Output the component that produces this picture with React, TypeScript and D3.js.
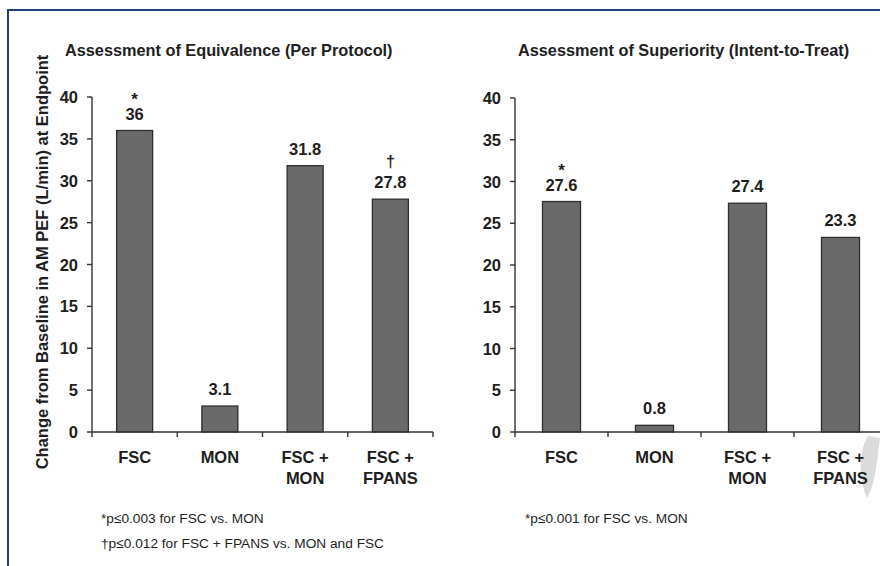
import React from "react";
import * as d3 from "d3";

const categories = ["FSC", "MON", "FSC + MON", "FSC + FPANS"];
const categoryLines = [["FSC"], ["MON"], ["FSC +", "MON"], ["FSC +", "FPANS"]];
const perProtocolValues = [36, 3.1, 31.8, 27.8];
const perProtocolLabels = ["36", "3.1", "31.8", "27.8"];
const perProtocolMarks = ["*", "", "", "†"];
const intentToTreatValues = [27.6, 0.8, 27.4, 23.3];
const intentToTreatLabels = ["27.6", "0.8", "27.4", "23.3"];
const intentToTreatMarks = ["*", "", "", ""];
const yTicks = [0, 5, 10, 15, 20, 25, 30, 35, 40];
const titles = ["Assessment of Equivalence (Per Protocol)", "Assessment of Superiority (Intent-to-Treat)"];
const yAxisLabel = "Change from Baseline in AM PEF (L/min) at Endpoint";
const footnotesLeft = ["*p≤0.003 for FSC vs. MON", "†p≤0.012 for FSC + FPANS vs. MON and FSC"];
const footnotesRight = ["*p≤0.001 for FSC vs. MON"];

const FONT = "'Liberation Sans', Arial, sans-serif";
const INK = "#1e1e1e";

type PanelProps = {
  x0: number;
  x1: number;
  yTop: number;
  yBottom: number;
  values: number[];
  labels: string[];
  marks: string[];
  barW: number;
};

function Panel({ x0, x1, yTop, yBottom, values, labels, marks, barW }: PanelProps) {
  const y = d3.scaleLinear().domain([0, 40]).range([yBottom, yTop]);
  const x = d3.scaleBand().domain(categories).range([x0, x1]);
  const bw = x.bandwidth();
  const tickEdges = d3.range(categories.length + 1).map((i) => x0 + i * bw);
  return (
    <g>
      {values.map((v, i) => {
        const cx = (x(categories[i]) as number) + bw / 2;
        return (
          <g key={i}>
            <rect
              x={cx - barW / 2}
              y={y(v)}
              width={barW}
              height={yBottom - y(v)}
              fill="#6a6a6a"
              stroke="#2e2e2e"
              strokeWidth={1.3}
            />
            <text
              x={cx}
              y={y(v) - 11}
              textAnchor="middle"
              fontFamily={FONT}
              fontWeight="bold"
              fontSize={16.5}
              fill={INK}
            >
              {labels[i]}
            </text>
            {marks[i] && (
              <text
                x={cx}
                y={y(v) - (marks[i] === "*" ? 26 : 32)}
                textAnchor="middle"
                fontFamily={FONT}
                fontWeight="bold"
                fontSize={marks[i] === "*" ? 17 : 16}
                fill={INK}
              >
                {marks[i]}
              </text>
            )}
            {categoryLines[i].map((line, j) => (
              <text
                key={j}
                x={cx}
                y={463 + j * 21}
                textAnchor="middle"
                fontFamily={FONT}
                fontWeight="bold"
                fontSize={16.5}
                fill={INK}
              >
                {line}
              </text>
            ))}
          </g>
        );
      })}
      <line x1={x0} x2={x0} y1={yTop} y2={yBottom} stroke="#333" strokeWidth={1.4} />
      <line x1={x0} x2={x1} y1={yBottom} y2={yBottom} stroke="#333" strokeWidth={1.4} />
      {yTicks.map((t) => (
        <g key={t}>
          <line x1={x0 - 5} x2={x0} y1={y(t)} y2={y(t)} stroke="#333" strokeWidth={1.4} />
          <text
            x={x0 - 14}
            y={y(t) + 6}
            textAnchor="end"
            fontFamily={FONT}
            fontWeight="bold"
            fontSize={16.5}
            fill={INK}
          >
            {t}
          </text>
        </g>
      ))}
      {tickEdges.map((tx, i) => (
        <line key={i} x1={tx} x2={tx} y1={yBottom} y2={yBottom + 5} stroke="#333" strokeWidth={1.4} />
      ))}
    </g>
  );
}

export default function App() {
  return (
    <svg width={880} height={566} style={{ position: "absolute", left: 0, top: 0, background: "#fff" }}>
      <rect x={0} y={0} width={880} height={566} fill="#fff" />
      <path
        d="M 868 436 C 858 452, 859 480, 867 498 C 875 486, 877 462, 880 438 Z"
        fill="#cfcfcf"
        opacity={0.75}
      />
      <line x1={7} x2={880} y1={10} y2={10} stroke="#1f3f7f" strokeWidth={2} />
      <line x1={8} x2={8} y1={9} y2={566} stroke="#1f3f7f" strokeWidth={2} />
      <text x={65} y={56} fontFamily={FONT} fontWeight="bold" fontSize={16.3} fill={INK}>
        {titles[0]}
      </text>
      <text x={518} y={56} fontFamily={FONT} fontWeight="bold" fontSize={16.3} fill={INK}>
        {titles[1]}
      </text>
      <text
        transform="translate(48,262) rotate(-90)"
        textAnchor="middle"
        fontFamily={FONT}
        fontWeight="bold"
        fontSize={16.5}
        fill={INK}
      >
        {yAxisLabel}
      </text>
      <Panel
        x0={92}
        x1={433}
        yTop={97}
        yBottom={432}
        values={perProtocolValues}
        labels={perProtocolLabels}
        marks={perProtocolMarks}
        barW={36}
      />
      <Panel
        x0={515}
        x1={887}
        yTop={98}
        yBottom={432}
        values={intentToTreatValues}
        labels={intentToTreatLabels}
        marks={intentToTreatMarks}
        barW={38}
      />
      {footnotesLeft.map((f, i) => (
        <text key={i} x={101} y={523 + i * 25} fontFamily={FONT} fontSize={13.7} fill={INK}>
          {f}
        </text>
      ))}
      {footnotesRight.map((f, i) => (
        <text key={i} x={525} y={523 + i * 25} fontFamily={FONT} fontSize={13.7} fill={INK}>
          {f}
        </text>
      ))}
    </svg>
  );
}
